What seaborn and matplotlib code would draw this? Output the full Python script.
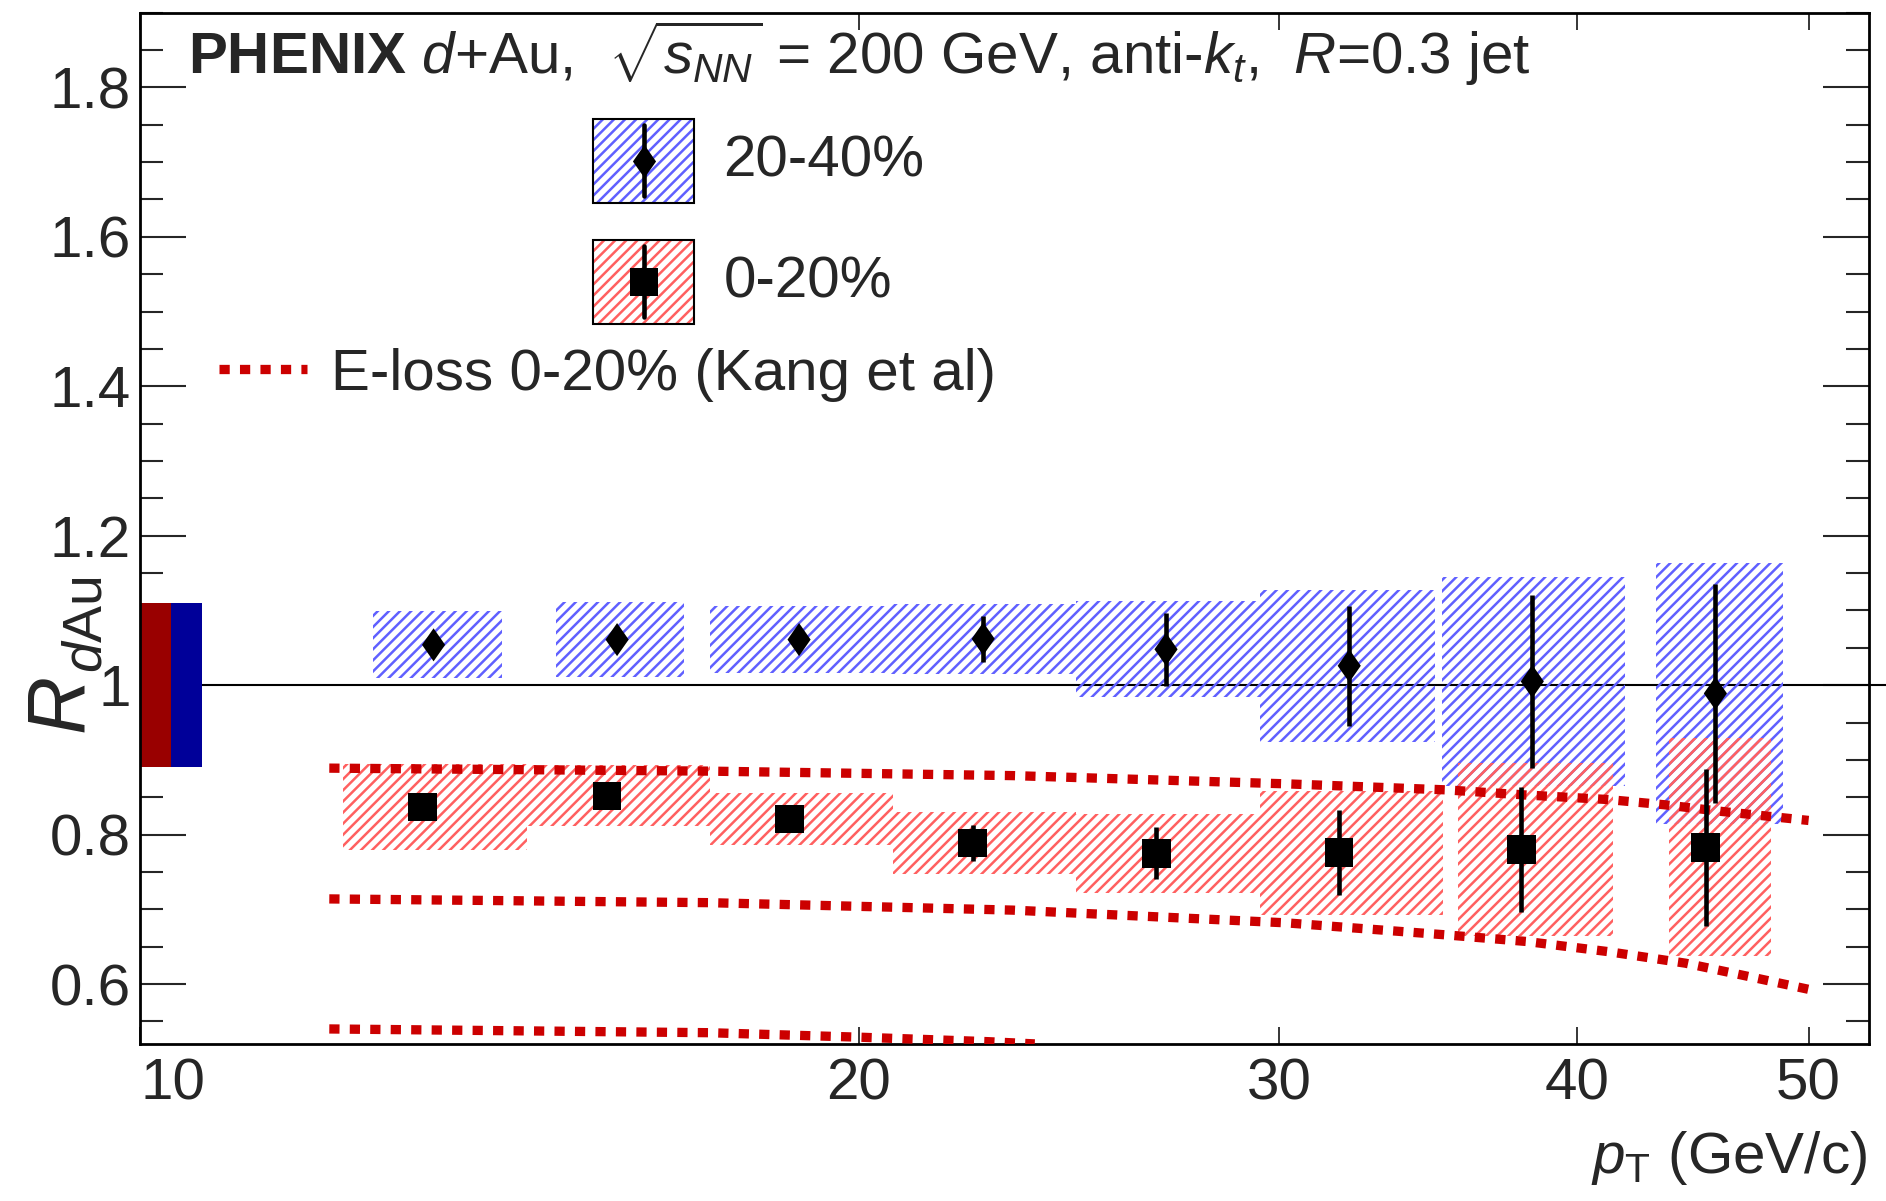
import numpy as np
import matplotlib
matplotlib.use("Agg")
import matplotlib.pyplot as plt
import seaborn as sns
from matplotlib.patches import Rectangle, Patch
from matplotlib.lines import Line2D
from matplotlib.path import Path
from matplotlib.legend_handler import HandlerBase
from matplotlib.ticker import MultipleLocator, FuncFormatter, NullLocator

# ---------------- data ----------------
# 20-40% centrality (diamonds)
pt_2040 = [13.27, 15.84, 18.88, 22.55, 26.9, 32.1, 38.3, 45.7]
r_2040 = [1.054, 1.061, 1.061, 1.062, 1.048, 1.026, 1.005, 0.989]
stat_2040 = [0.010, 0.010, 0.012, 0.031, 0.049, 0.080, 0.116, 0.146]
sys_2040 = [0.045, 0.050, 0.045, 0.047, 0.064, 0.102, 0.140, 0.175]
sys_lo_2040 = [12.52, 14.94, 17.32, 20.63, 24.66, 29.44, 35.10, 43.14]
sys_hi_2040 = [14.17, 16.90, 20.63, 24.66, 29.44, 34.88, 41.9, 48.78]

# 0-20% centrality (squares)
pt_020 = [13.13, 15.69, 18.71, 22.32, 26.65, 31.78, 37.9, 45.27]
r_020 = [0.837, 0.852, 0.821, 0.789, 0.775, 0.776, 0.780, 0.783]
stat_020 = [0.010, 0.010, 0.010, 0.024, 0.035, 0.057, 0.084, 0.105]
sys_020 = [0.058, 0.041, 0.035, 0.041, 0.053, 0.083, 0.116, 0.146]
sys_lo_020 = [12.16, 14.52, 17.32, 20.67, 24.66, 29.44, 35.64, 43.7]
sys_hi_020 = [14.52, 17.32, 20.67, 24.66, 29.44, 35.15, 41.4, 48.2]

# E-loss calculation 0-20% (Kang et al) - three curves
eloss_pt_hi = [12.0, 17.3, 23.2, 30.2, 35.2, 38.1, 41.2, 43.5, 46.0, 50.0]
eloss_hi = [0.889, 0.885, 0.879, 0.868, 0.860, 0.853, 0.847, 0.840, 0.831, 0.819]
eloss_pt_mid = [12.0, 17.3, 23.2, 30.2, 35.2, 38.1, 41.2, 44.4, 46.9, 50.0]
eloss_mid = [0.714, 0.709, 0.699, 0.682, 0.666, 0.657, 0.6435, 0.628, 0.612, 0.593]
eloss_pt_lo = [12.0, 17.3, 20.0, 22.65, 23.7]
eloss_lo = [0.540, 0.535, 0.529, 0.523, 0.520]

# global normalisation uncertainty boxes (0-20%, 20-40%)
norm_edges = [10.0, 10.30, 10.61]
norm_unc = [0.11, 0.11]

x_ticks = [10, 20, 30, 40, 50]
x_tick_labels = ["10", "20", "30", "40", "50"]

# ---------------- style ----------------
sns.set_style("ticks")
plt.rcParams["font.family"] = ["Liberation Sans", "DejaVu Sans"]
plt.rcParams["mathtext.fontset"] = "custom"
plt.rcParams["mathtext.rm"] = "Liberation Sans"
plt.rcParams["mathtext.it"] = "Liberation Sans:italic"
plt.rcParams["mathtext.bf"] = "Liberation Sans:bold"
plt.rcParams["hatch.linewidth"] = 1.8

blue_hatch = "#6060ff"
red_hatch = "#ff6060"
theory_col = "#cc0000"
FS = 42

diamond = Path([(0, -1), (0.7, 0), (0, 1), (-0.7, 0), (0, -1)],
               [Path.MOVETO, Path.LINETO, Path.LINETO, Path.LINETO, Path.CLOSEPOLY])
DIAM_MS = 23.8   # points (height)
SQ_MS = 20.5     # points (side)

fig = plt.figure(figsize=(18.86, 12.01), dpi=100)
ax = fig.add_axes([0.07439, 0.13081, 0.91660, 0.85870])
ax.set_xscale("log")
ax.set_xlim(10, 53)
ax.set_ylim(0.52, 1.90)

# global normalisation boxes
ax.bar(norm_edges[:-1], [2 * u for u in norm_unc], width=np.diff(norm_edges),
       bottom=[1 - u for u in norm_unc], align="edge",
       color=["#990000", "#000099"], linewidth=0, zorder=2)
ax.axhline(1.0, xmin=0.0355, xmax=1.01, color="black", lw=1.5,
           clip_on=False, zorder=1)

# systematic boxes
ax.bar(sys_lo_2040, [2 * s for s in sys_2040],
       width=np.array(sys_hi_2040) - np.array(sys_lo_2040),
       bottom=np.array(r_2040) - np.array(sys_2040), align="edge",
       facecolor="none", edgecolor=blue_hatch, hatch="///", linewidth=0, zorder=2)
ax.bar(sys_lo_020, [2 * s for s in sys_020],
       width=np.array(sys_hi_020) - np.array(sys_lo_020),
       bottom=np.array(r_020) - np.array(sys_020), align="edge",
       facecolor="none", edgecolor=red_hatch, hatch="///", linewidth=0, zorder=2)

# theory curves
for xs, ys in [(eloss_pt_hi, eloss_hi), (eloss_pt_mid, eloss_mid), (eloss_pt_lo, eloss_lo)]:
    sns.lineplot(x=xs, y=ys, ax=ax, color=theory_col, linewidth=6.7,
                 estimator=None, sort=False, zorder=3)
    ax.lines[-1].set_linestyle((0, (1.1, 1.1)))
    ax.lines[-1].set_dash_capstyle("butt")

# statistical error bars
ax.errorbar(pt_2040, r_2040, yerr=stat_2040, fmt="none", ecolor="black",
            elinewidth=3.3, capsize=0, zorder=4)
ax.errorbar(pt_020, r_020, yerr=stat_020, fmt="none", ecolor="black",
            elinewidth=3.3, capsize=0, zorder=4)

# markers
sns.scatterplot(x=pt_2040, y=r_2040, marker=diamond, s=DIAM_MS ** 2, color="black",
                edgecolor="none", linewidth=0, ax=ax, zorder=6, legend=False)
sns.scatterplot(x=pt_020, y=r_020, marker="s", s=SQ_MS ** 2, color="black",
                edgecolor="none", linewidth=0, ax=ax, zorder=6, legend=False)

# ---------------- axes ----------------
ax.set_xticks(x_ticks)
ax.set_xticklabels(x_tick_labels)
ax.xaxis.set_minor_locator(NullLocator())
ax.get_xticklabels()[0].set_horizontalalignment("left")
ax.tick_params(axis="x", which="major", direction="in", length=12, width=1.3,
               top=True, bottom=True, labelsize=FS, pad=10)
ax.yaxis.set_major_locator(MultipleLocator(0.2))
ax.yaxis.set_minor_locator(MultipleLocator(0.05))
ax.yaxis.set_major_formatter(FuncFormatter(lambda v, p: f"{v:g}"))
ax.tick_params(axis="y", which="major", direction="in", length=33, width=1.5,
               left=True, right=True, labelsize=FS, pad=7)
ax.tick_params(axis="y", which="minor", direction="in", length=16.5, width=1.5,
               left=True, right=True)
for sp in ax.spines.values():
    sp.set_linewidth(2.0)
    sp.set_color("black")

ax.set_xlabel(r"$p_{\mathrm{T}}$ (GeV/c)", fontsize=FS, ha="right", va="baseline")
ax.xaxis.set_label_coords(0.9988, -0.1255)

fig.text(82 / 1886, 1 - 732 / 1201, "R", style="italic", fontsize=58,
         rotation=90, rotation_mode="anchor", ha="left", va="baseline")
fig.text(101 / 1886, 1 - 673 / 1201, r"$\mathit{d}$Au", fontsize=40,
         rotation=90, rotation_mode="anchor", ha="left", va="baseline")

ax.text(0.0276, 0.9405,
        r"$\mathbf{PHENIX}$ $\mathit{d}$+Au,  $\sqrt{s_{\mathit{NN}}}$ = 200 GeV, "
        r"anti-$\mathit{k}_{\mathit{t}}$,  $\mathit{R}$=0.3 jet",
        transform=ax.transAxes, fontsize=42, ha="left", va="baseline")


# ---------------- legends ----------------
class BoxHandler(HandlerBase):
    def __init__(self, hatch_color, marker, msize, errlen, shift):
        super().__init__()
        self.hc = hatch_color
        self.marker = marker
        self.msize = msize
        self.errlen = errlen
        self.shift = shift

    def create_artists(self, legend, orig_handle, xdescent, ydescent, width,
                       height, fontsize, trans):
        x0, y0 = -xdescent, -ydescent - self.shift
        fill = Rectangle((x0, y0), width, height, facecolor="white",
                         edgecolor=self.hc, hatch="///", linewidth=0, transform=trans)
        frame = Rectangle((x0, y0), width, height, fill=False,
                          edgecolor="black", linewidth=1.5, transform=trans)
        cx, cy = x0 + width / 2, y0 + height / 2
        bar = Line2D([cx, cx], [cy - self.errlen, cy + self.errlen],
                     color="black", linewidth=3.3, transform=trans)
        mk = Line2D([cx], [cy], marker=self.marker, markersize=self.msize,
                    color="black", markeredgewidth=0, linestyle="none",
                    transform=trans)
        return [fill, frame, bar, mk]


h1 = Patch(label="20-40%")
h2 = Patch(label="0-20%")
leg1 = ax.legend(handles=[h1, h2], labels=["20-40%", "0-20%"],
                 handler_map={h1: BoxHandler(blue_hatch, diamond, DIAM_MS, 25.5, 2),
                              h2: BoxHandler(red_hatch, "s", SQ_MS, 25.5, 2)},
                 loc="upper left", bbox_to_anchor=(0.2620, 0.8997),
                 frameon=False, fontsize=FS, handlelength=1.73, handleheight=1.838,
                 labelspacing=0.63, handletextpad=0.5, borderpad=0, borderaxespad=0)
ax.add_artist(leg1)

h3 = Line2D([], [], color=theory_col, linewidth=6.7, linestyle=(0, (1.1, 1.1)))
leg2 = ax.legend(handles=[h3], labels=["E-loss 0-20% (Kang et al)"],
                 loc="center left", bbox_to_anchor=(0.0455, 0.649),
                 frameon=False, fontsize=FS, handlelength=1.51,
                 handletextpad=0.41, borderpad=0, borderaxespad=0)

fig.savefig("out.png", dpi=100)
